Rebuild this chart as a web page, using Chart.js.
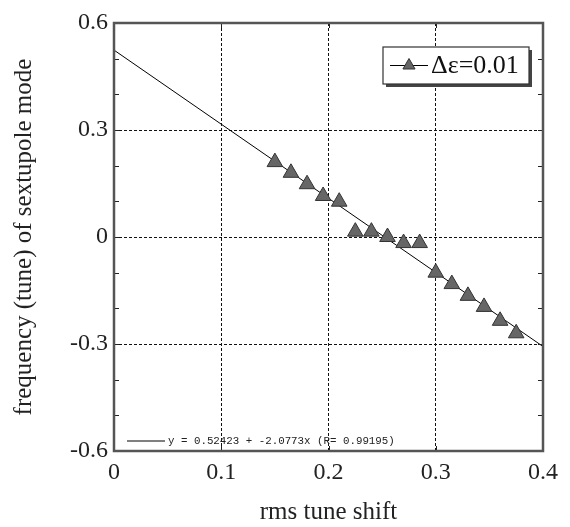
<!DOCTYPE html>
<html>
<head>
<meta charset="utf-8">
<script src="https://cdn.jsdelivr.net/npm/chart.js@4/dist/chart.umd.min.js"></script>
<style>
  html, body { margin: 0; padding: 0; background: #fff; }
  #wrap { width: 570px; height: 527px; }
</style>
</head>
<body>
<div id="wrap"><canvas id="chart" width="570" height="527"></canvas></div>
<script>
// === data ===
const tuneShift = [0.15, 0.165, 0.18, 0.195, 0.21, 0.225, 0.24, 0.255, 0.27, 0.285, 0.30, 0.315, 0.33, 0.345, 0.36, 0.375];
const modeTune = [0.21, 0.18, 0.148, 0.115, 0.099, 0.015, 0.015, 0.0, -0.017, -0.017, -0.10, -0.132, -0.165, -0.196, -0.235, -0.27];

// straight-line fit, end points
const fitX = [0, 0.4];
const fitY = [0.524, -0.307];

const xTicks = [0, 0.1, 0.2, 0.3, 0.4];
const yTicks = [-0.6, -0.3, 0, 0.3, 0.6];
const yMinorTicks = [-0.5, -0.4, -0.2, -0.1, 0.1, 0.2, 0.4, 0.5];

const seriesLabel = 'Δε=0.01';
const fitLabel = 'y = 0.52423 + -2.0773x (R= 0.99195)';

const serif = '"Liberation Serif", "Times New Roman", serif';
const markFill = '#666';
const markEdge = '#333';

// frame, inner ticks and the two legends
const framePlugin = {
  id: 'frame',
  afterDraw(chart) {
    const { ctx, chartArea: a, scales } = chart;
    const xs = scales.x, ys = scales.y;
    ctx.save();

    // inner ticks on all four sides
    ctx.strokeStyle = '#222';
    ctx.lineWidth = 1;
    ctx.beginPath();
    yTicks.concat(yMinorTicks).forEach(v => {
      const py = Math.round(ys.getPixelForValue(v)) + 0.5;
      ctx.moveTo(a.left, py); ctx.lineTo(a.left + 5, py);
      ctx.moveTo(a.right, py); ctx.lineTo(a.right - 5, py);
    });
    xTicks.forEach(v => {
      const px = Math.round(xs.getPixelForValue(v)) + 0.5;
      ctx.moveTo(px, a.bottom); ctx.lineTo(px, a.bottom - 5);
      ctx.moveTo(px, a.top); ctx.lineTo(px, a.top + 5);
    });
    ctx.stroke();

    // frame
    ctx.strokeStyle = '#555';
    ctx.lineWidth = 2.5;
    ctx.strokeRect(a.left, a.top, a.right - a.left, a.bottom - a.top);

    // series legend box (top right) with shadow
    const bx = 383, by = 47, bw = 146, bh = 37;
    ctx.fillStyle = '#444';
    ctx.fillRect(bx + 3, by + 3, bw, bh);
    ctx.fillStyle = '#fff';
    ctx.fillRect(bx, by, bw, bh);
    ctx.strokeStyle = '#333';
    ctx.lineWidth = 1.2;
    ctx.strokeRect(bx, by, bw, bh);

    const ly = by + bh / 2;
    ctx.strokeStyle = '#000';
    ctx.lineWidth = 1;
    ctx.beginPath();
    ctx.moveTo(bx + 7, ly); ctx.lineTo(bx + 45, ly);
    ctx.stroke();
    ctx.fillStyle = markFill;
    ctx.strokeStyle = markEdge;
    Chart.helpers.drawPoint(ctx, { pointStyle: 'triangle', radius: 7, rotation: 0, borderWidth: 1 }, bx + 26, ly);

    ctx.fillStyle = '#111';
    ctx.font = '26px ' + serif;
    ctx.textBaseline = 'middle';
    ctx.textAlign = 'left';
    ctx.fillText(seriesLabel, bx + 48, ly + 1);

    // fit legend (bottom left)
    const fy = 441;
    ctx.strokeStyle = '#000';
    ctx.lineWidth = 1;
    ctx.beginPath();
    ctx.moveTo(a.left + 13, fy); ctx.lineTo(a.left + 51, fy);
    ctx.stroke();
    ctx.fillStyle = '#222';
    ctx.font = '10.8px "Liberation Mono", "Courier New", monospace';
    ctx.fillText(fitLabel, a.left + 54, fy);

    ctx.restore();
  }
};

const ctx = document.getElementById('chart').getContext('2d');

new Chart(ctx, {
  type: 'scatter',
  data: {
    datasets: [
      {
        label: seriesLabel,
        data: tuneShift.map((x, i) => ({ x, y: modeTune[i] })),
        pointStyle: 'triangle',
        pointRadius: 9,
        pointBackgroundColor: markFill,
        pointBorderColor: markEdge,
        pointBorderWidth: 1,
        showLine: false
      },
      {
        label: 'fit',
        data: fitX.map((x, i) => ({ x, y: fitY[i] })),
        showLine: true,
        borderColor: '#000',
        borderWidth: 1,
        pointRadius: 0,
        fill: false
      }
    ]
  },
  options: {
    responsive: false,
    animation: false,
    layout: { padding: { left: 0, right: 27, top: 23, bottom: 0 } },
    plugins: {
      legend: { display: false },
      tooltip: { enabled: false }
    },
    scales: {
      x: {
        type: 'linear',
        min: 0,
        max: 0.4,
        afterFit: s => { s.height = 76; },
        afterBuildTicks: s => { s.ticks = xTicks.map(v => ({ value: v })); },
        ticks: {
          padding: 7,
          color: '#222',
          font: { family: serif, size: 24 },
          callback: v => String(+v.toFixed(2))
        },
        grid: { color: '#111', lineWidth: 1, drawTicks: false },
        border: { display: false, dash: [3, 2] },
        title: {
          display: true,
          text: 'rms tune shift',
          color: '#222',
          font: { family: serif, size: 25 },
          padding: { top: 0, bottom: 0 }
        }
      },
      y: {
        type: 'linear',
        min: -0.6,
        max: 0.6,
        afterFit: s => { s.width = 114; },
        afterBuildTicks: s => { s.ticks = yTicks.map(v => ({ value: v })); },
        ticks: {
          padding: 6,
          color: '#222',
          font: { family: serif, size: 24 },
          callback: v => String(+v.toFixed(2))
        },
        grid: { color: '#111', lineWidth: 1, drawTicks: false },
        border: { display: false, dash: [3, 2] },
        title: {
          display: true,
          text: 'frequency (tune) of sextupole mode',
          color: '#222',
          font: { family: serif, size: 25 },
          padding: { top: 9, bottom: 0 }
        }
      }
    }
  },
  plugins: [framePlugin]
});
</script>
</body>
</html>
